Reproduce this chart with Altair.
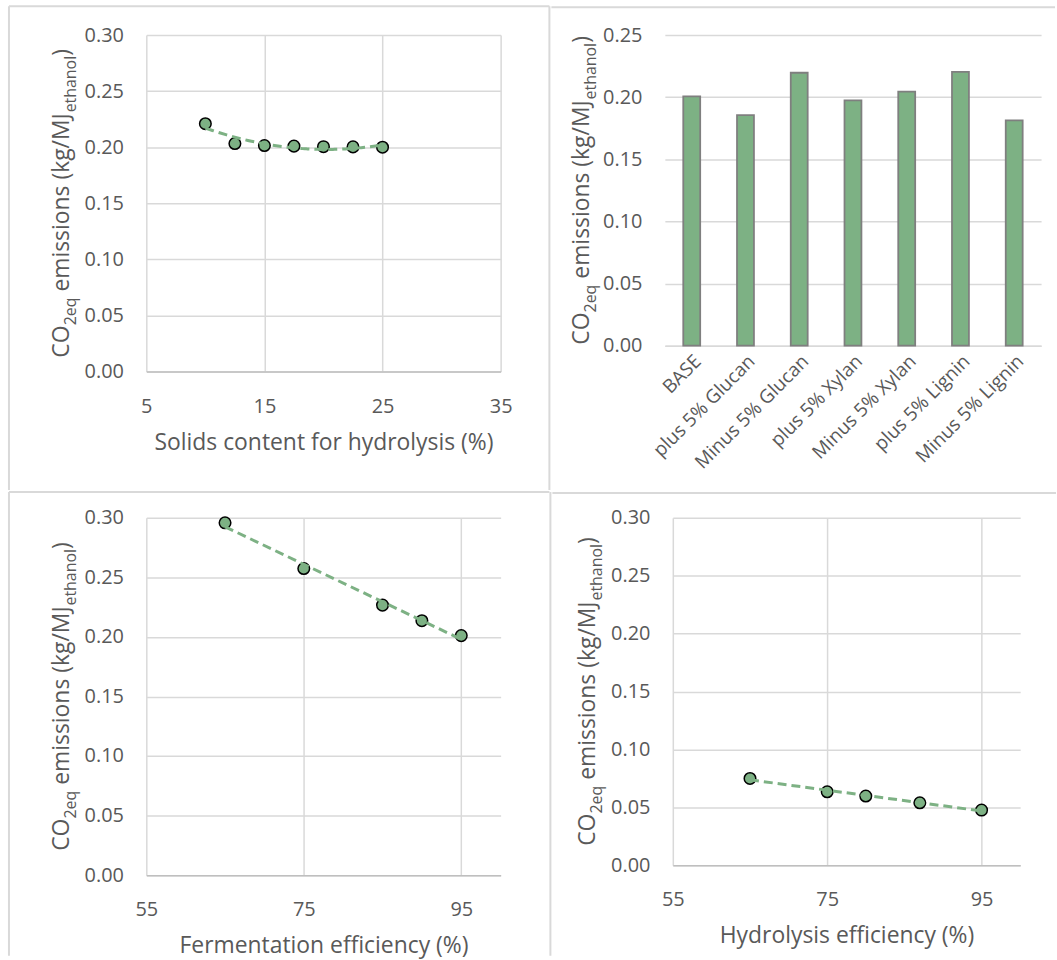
import altair as alt
import pandas as pd

# ---- data -----------------------------------------------------------------
solids_pct = [10, 12.5, 15, 17.5, 20, 22.5, 25]
solids_co2 = [0.221, 0.2033, 0.2015, 0.2010, 0.2005, 0.2003, 0.2000]

scenario = ["BASE", "plus 5% Glucan", "Minus 5% Glucan", "plus 5% Xylan",
            "Minus 5% Xylan", "plus 5% Lignin", "Minus 5% Lignin"]
scenario_co2 = [0.2007, 0.1856, 0.2197, 0.1975, 0.2045, 0.2204, 0.1813]

ferm_eff = [65, 75, 85, 90, 95]
ferm_co2 = [0.2958, 0.2574, 0.2267, 0.2136, 0.2011]

hydro_eff = [65, 75, 80, 87, 95]
hydro_co2 = [0.0749, 0.0634, 0.0597, 0.0539, 0.0476]

# ---- style ------------------------------------------------------------------
GREEN = "#7db184"
BAR_EDGE = "#7f7f7f"
GRID = "#d9d9d9"
AXIS_LINE = "#bfbfbf"
TEXT = "#595959"
FRAME = "#d9d9d9"
FONT = "Open Sans"

TICK_SIZE = 20
XTITLE_SIZE = 23
MAIN = 23      # y-title main text size
SUB = 16       # y-title subscript size
SUB_SHIFT = 7  # subscript baseline drop (px)

ONE = pd.DataFrame({"k": [0]})

# approximate advance widths (em) of Open Sans, used to chain title pieces
ADV = {" ": 0.260, "(": 0.296, ")": 0.296, "/": 0.367, "2": 0.572,
       "C": 0.633, "O": 0.778, "M": 0.903, "J": 0.286, "a": 0.556,
       "e": 0.561, "g": 0.548, "h": 0.614, "i": 0.253, "k": 0.525,
       "l": 0.253, "m": 0.930, "n": 0.614, "o": 0.604, "q": 0.613,
       "s": 0.477, "t": 0.353}


def text_w(s, size):
    return sum(ADV[c] for c in s) * size


def y_title(plot_h, base_x):
    """CO2eq emissions (kg/MJethanol) written bottom-to-top with subscripts."""
    pieces = [("CO", MAIN, 0), ("2eq", SUB, 0), ("emissions (kg/MJ", MAIN, text_w(" ", MAIN)),
              ("ethanol", SUB, 0), (")", MAIN, 0)]
    total = sum(text_w(t, s) + pre for t, s, pre in pieces)
    y = plot_h / 2 + total / 2
    layers = []
    for t, s, pre in pieces:
        y -= pre
        bx = base_x + (SUB_SHIFT if s == SUB else 0)
        layers.append(
            alt.Chart(ONE).mark_text(text=t, font=FONT, fontSize=s, color=TEXT,
                                     angle=270, align="left", baseline="alphabetic")
            .encode(x=alt.value(bx), y=alt.value(y))
        )
        y -= text_w(t, s)
    return layers


def frame(plot, cell, edges):
    """Transparent cell box plus the visible border segments around it."""
    px, py = plot[0], plot[1]
    cx0, cy0, cx1, cy1 = cell
    layers = [
        alt.Chart(ONE).mark_rect(fill="#ffffff", fillOpacity=0, strokeOpacity=0)
        .encode(x=alt.value(cx0 - px), x2=alt.value(cx1 - px),
                y=alt.value(cy0 - py), y2=alt.value(cy1 - py))
    ]
    for (x0, y0, x1, y1) in edges:
        enc = dict(x=alt.value(x0 - px), y=alt.value(y0 - py))
        if x1 != x0:
            enc["x2"] = alt.value(x1 - px)
        if y1 != y0:
            enc["y2"] = alt.value(y1 - py)
        layers.append(alt.Chart(ONE).mark_rule(color=FRAME, strokeWidth=2).encode(**enc))
    return layers


def y_axis(top):
    vals = [round(i * 0.05, 2) for i in range(int(round(top / 0.05)) + 1)]
    return alt.Axis(values=vals, format=".2f", title=None, grid=True, gridColor=GRID,
                    gridWidth=1.5, domain=False, ticks=False, tickSize=0,
                    labelPadding=23, labelFont=FONT, labelFontSize=TICK_SIZE,
                    labelColor=TEXT, labelFlush=False, labelOverlap=False)


def scatter_panel(xs, ys, xdom, xticks, xtitle, method, plot, cell, edges, base_x,
                  title_pad=15):
    df = pd.DataFrame({"x": xs, "y": ys})
    w, h = plot[2], plot[3]
    x_enc = alt.X("x:Q", scale=alt.Scale(domain=xdom, nice=False, zero=False),
                  axis=alt.Axis(values=xticks, title=xtitle, grid=True, gridColor=GRID,
                                gridWidth=1.5, domain=True, domainColor=AXIS_LINE,
                                domainWidth=1.5, ticks=False, tickSize=0, labelPadding=25,
                                labelFont=FONT, labelFontSize=TICK_SIZE, labelColor=TEXT,
                                labelFlush=False, labelOverlap=False, titleFont=FONT,
                                titleFontSize=XTITLE_SIZE, titleFontWeight="normal",
                                titleColor=TEXT, titlePadding=title_pad))
    y_enc = alt.Y("y:Q", scale=alt.Scale(domain=[0, 0.30], nice=False), axis=y_axis(0.30))
    pts = alt.Chart(df).mark_circle(size=135, fill=GREEN, stroke="black", strokeWidth=1.5,
                                    opacity=1).encode(x=x_enc, y=y_enc)
    if method == "poly":
        reg = alt.Chart(df).transform_regression("x", "y", method="poly", order=2)
    else:
        reg = alt.Chart(df).transform_regression("x", "y", method="linear")
    trend = reg.mark_line(color=GREEN, strokeWidth=3, strokeDash=[9, 5]).encode(x=x_enc, y=y_enc)
    layers = frame(plot, cell, edges) + [pts, trend] + y_title(h, base_x)
    return alt.layer(*layers).properties(width=w, height=h)


def bar_panel(plot, cell, edges, base_x):
    df = pd.DataFrame({"scenario": scenario, "co2": scenario_co2})
    w, h = plot[2], plot[3]
    x_enc = alt.X("scenario:N", sort=scenario,
                  scale=alt.Scale(paddingInner=0, paddingOuter=0),
                  axis=alt.Axis(title=None, labelAngle=-45, labelFont=FONT, labelFontSize=19,
                                labelColor=TEXT, ticks=False, tickSize=0, domain=True,
                                domainColor=GRID, domainWidth=1.5, labelPadding=6,
                                grid=False, labelOverlap=False))
    y_enc = alt.Y("co2:Q", scale=alt.Scale(domain=[0, 0.25], nice=False), axis=y_axis(0.25))
    bars = alt.Chart(df).mark_bar(size=17, fill=GREEN, stroke=BAR_EDGE,
                                  strokeWidth=1.8).encode(x=x_enc, y=y_enc)
    layers = frame(plot, cell, edges) + [bars] + y_title(h, base_x)
    return alt.layer(*layers).properties(width=w, height=h)


# plot areas (x, y, w, h) and cells (x0, y0, x1, y1) in page pixels
TL_PLOT, TL_CELL = (146, 35, 356, 338), (8, 6, 551, 492)
TR_PLOT, TR_CELL = (665, 34, 378, 312), (551, 6, 1057, 492)
BL_PLOT, BL_CELL = (146, 518, 356, 359), (8, 492, 551, 958)
BR_PLOT, BR_CELL = (672, 517, 349, 349), (551, 492, 1057, 958)

top_left = scatter_panel(
    solids_pct, solids_co2, [5, 35], [5, 15, 25, 35], "Solids content for hydrolysis (%)",
    "poly", TL_PLOT, TL_CELL,
    [(8, 6, 551, 6), (8, 6, 8, 492), (551, 6, 551, 492)], -78)

top_right = bar_panel(TR_PLOT, TR_CELL, [(551, 6, 1057, 6)], -76)

bottom_left = scatter_panel(
    ferm_eff, ferm_co2, [55, 100], [55, 75, 95], "Fermentation efficiency (%)",
    "linear", BL_PLOT, BL_CELL,
    [(8, 492, 551, 492), (8, 492, 8, 958), (552, 492, 552, 958)], -78)

bottom_right = scatter_panel(
    hydro_eff, hydro_co2, [55, 100], [55, 75, 95], "Hydrolysis efficiency (%)",
    "linear", BR_PLOT, BR_CELL, [(551, 492, 1057, 492)], -78)

chart = (
    alt.vconcat(
        alt.hconcat(top_left, top_right, spacing=0),
        alt.hconcat(bottom_left, bottom_right, spacing=0),
        spacing=0,
    )
    .properties(padding={"left": 8, "top": 3, "right": 0, "bottom": 0}, background="white")
    .configure_view(stroke=None)
)

chart.save("out.html", embed_options={"renderer": "svg", "actions": False})
